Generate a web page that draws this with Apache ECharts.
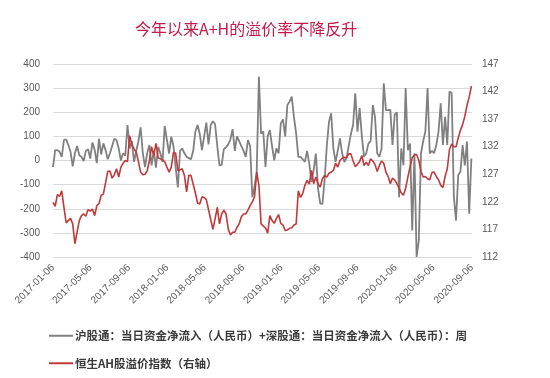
<!DOCTYPE html>
<html><head><meta charset="utf-8">
<script src="https://cdn.jsdelivr.net/npm/echarts@6/dist/echarts.min.js"></script>
<style>html,body{margin:0;padding:0;background:#fff}#c{width:550px;height:378px}</style>
</head><body><div id="c"></div>
<script>
const titleText = '今年以来A+H的溢价率不降反升';
const startDate = '2017-01-06';
const endDate = '2020-09-06';
const tickLabels = ['2017-01-06','2017-05-06','2017-09-06','2018-01-06','2018-05-06','2018-09-06','2019-01-06','2019-05-06','2019-09-06','2020-01-06','2020-05-06','2020-09-06'];
const flowName = '沪股通：当日资金净流入（人民币）+深股通：当日资金净流入（人民币）：周';
const ahName = '恒生AH股溢价指数（右轴）';
// weekly (Fridays from 2017-01-06)
const flowValues = [
 -27, 43, 43, 36, 15, 85, 88, 64, 36, -24,
 29, 60, 22, 15, -2, 40, 47, 8, 75, 45,
 -11, 90, 25, 71, 43, 5, 30, 60, 90, 85,
 50, 0, 30, 20, 147, 50, 80, -6, 40, 80,
 137, 30, -27, 30, 64, -20, 40, -30, 57, 30,
 -6, 143, 85, 29, 99, 60, -30, -112, 40, 50,
 30, 15, 10, 5, 40, 120, 147, 110, 43, 100,
 157, 67, 147, 163, 150, 60, -20, -18, 47, 55,
 67, 88, 130, 40, 100, 80, 60, 40, 15, 85,
 60, -152, -110, -48, 348, 112, 120, -27, 100, 126,
 60, 1, 50, 30, 154, 170, 100, 230, 244, 265,
 180, 112, 15, 15, 5, -6, 40, -13, -89, -40,
 29, -117, -179, -180, -82, 60, 161, 196, 50, -6,
 40, 92, 30, -6, 10, 60, 110, 147, 279, 119,
 217, 100, 15, 30, 70, 80, 230, 181, 30, 15,
 50, 320, 209, 209, 210, 64, 190, 200, -152, 50,
 -20, 300, 43, 70, -290, 30, -400, -332, 30, 80,
 120, 300, 29, 40, 30, 64, 120, 237, 64, 181,
 64, 286, 280, -150, -249, -60, -47, 64, -20, 78,
 -221, 8
];
const ahIndexValues = [
 121.9, 121.2, 123.3, 123.0, 124.0, 121.0, 118.2, 118.6, 119.0, 118.0,
 114.4, 116.5, 118.6, 119.5, 119.8, 119.4, 120.6, 120.3, 120.7, 119.5,
 121.3, 121.7, 123.2, 123.4, 125.5, 127.5, 127.6, 126.3, 126.9, 128.0,
 126.5, 128.3, 129.0, 129.5, 129.3, 134.0, 132.4, 131.6, 131.0, 129.3,
 127.4, 126.9, 127.0, 127.6, 129.5, 132.0, 130.4, 132.6, 130.0, 129.8,
 129.6, 129.3, 128.3, 127.4, 128.3, 131.0, 130.8, 127.7, 127.8, 128.0,
 126.8, 123.8, 126.8, 126.8, 125.2, 123.6, 121.8, 121.6, 122.9, 122.8,
 122.4, 120.6, 118.8, 117.0, 118.9, 121.0, 118.0, 119.8, 120.5, 119.8,
 117.1, 116.0, 116.5, 116.5, 117.4, 118.0, 119.3, 119.8, 119.8, 120.5,
 121.3, 122.0, 122.9, 127.4, 125.0, 118.0, 117.6, 117.3, 116.3, 119.5,
 118.6, 118.1, 119.0, 119.7, 118.1, 117.8, 116.8, 116.9, 117.2, 117.3,
 117.8, 118.0, 124.0, 122.8, 123.5, 125.0, 125.9, 125.2, 127.7, 125.3,
 126.5, 125.3, 124.7, 126.2, 126.8, 126.5, 127.2, 127.4, 127.7, 129.0,
 128.3, 129.5, 129.9, 130.1, 130.0, 130.7, 130.7, 129.4, 128.4, 128.8,
 129.3, 130.4, 128.6, 129.2, 128.6, 129.8, 129.4, 128.8, 127.5, 128.6,
 129.4, 129.0, 127.4, 126.6, 125.3, 126.3, 126.0, 125.3, 124.5, 123.6,
 123.2, 124.5, 126.5, 128.3, 130.0, 130.5, 130.6, 129.5, 127.5, 126.5,
 126.6, 126.2, 126.0, 127.3, 127.4, 126.6, 126.0, 125.0, 124.6, 126.6,
 128.0, 131.5, 132.5, 132.0, 132.0, 133.6, 135.0, 136.0, 137.5, 139.5,
 141.0, 143.0
];
const leftMin = -400, leftMax = 400, leftStep = 100;
const rightMin = 112, rightMax = 147, rightStep = 5;

function dayOffset(s) {
  const p = s.split('-').map(Number);
  const q = startDate.split('-').map(Number);
  return Math.round((Date.UTC(p[0], p[1]-1, p[2]) - Date.UTC(q[0], q[1]-1, q[2])) / 86400000);
}
const tickDays = tickLabels.map(dayOffset);
const labelByDay = {};
tickLabels.forEach((t, i) => { labelByDay[tickDays[i]] = t; });
const flowData = flowValues.map((v, i) => [i * 7, v]);
const ahData = ahIndexValues.map((v, i) => [i * 7, v]);

const chart = echarts.init(document.getElementById('c'), null, {renderer: 'canvas'});
const axisFont = {color: '#595959', fontSize: 10, fontFamily: 'Liberation Sans, Arial, sans-serif'};
chart.setOption({
  animation: false,
  backgroundColor: '#ffffff',
  title: {
    text: titleText, left: 130, top: 16,
    textStyle: {color: '#c41a4a', fontSize: 16, fontWeight: 'normal', fontFamily: 'Noto Sans CJK SC'}
  },
  legend: {
    orient: 'vertical', left: 44, top: 325, itemGap: 16,
    icon: 'rect', itemWidth: 24, itemHeight: 2,
    textStyle: {color: '#3a3a3a', fontSize: 11.5, fontWeight: 'bold', fontFamily: 'Noto Sans CJK SC', padding: [0,0,0,-3]},
    data: [flowName, ahName]
  },
  grid: {left: 53, right: 78, top: 64, bottom: 121},
  xAxis: {
    type: 'value', min: 0, max: dayOffset(endDate),
    splitLine: {show: false},
    axisLine: {show: true, lineStyle: {color: '#d9d9d9', width: 1}},
    axisTick: {show: false},
    axisLabel: Object.assign({
      customValues: tickDays, rotate: 45, margin: 9,
      formatter: v => labelByDay[v] || ''
    }, axisFont)
  },
  yAxis: [
    {
      type: 'value', min: leftMin, max: leftMax, interval: leftStep,
      axisLine: {show: false}, axisTick: {show: false},
      splitLine: {show: true, lineStyle: {color: '#d9d9d9', width: 1}},
      axisLabel: Object.assign({margin: 13}, axisFont)
    },
    {
      type: 'value', min: rightMin, max: rightMax, interval: rightStep,
      axisLine: {show: false}, axisTick: {show: false},
      splitLine: {show: false},
      axisLabel: Object.assign({margin: 10}, axisFont)
    }
  ],
  series: [
    {
      name: flowName, type: 'line', yAxisIndex: 0, data: flowData,
      symbol: 'none', lineStyle: {color: '#808080', width: 1.8}, itemStyle: {color: '#808080'}
    },
    {
      name: ahName, type: 'line', yAxisIndex: 1, data: ahData,
      symbol: 'none', lineStyle: {color: '#c0393b', width: 1.6}, itemStyle: {color: '#c0393b'}
    }
  ]
});
</script></body></html>
